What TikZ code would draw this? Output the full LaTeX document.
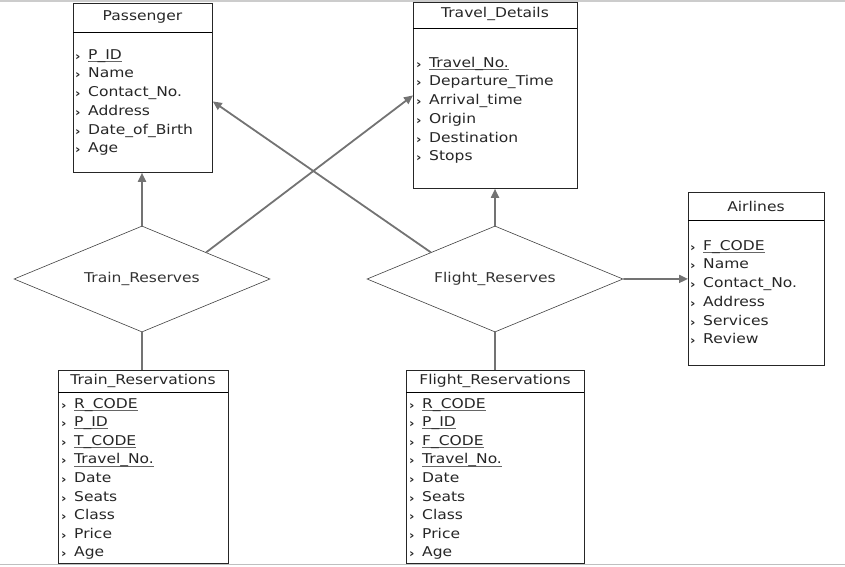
\documentclass[tikz,border=0pt]{standalone}
\usepackage{fontspec}
\usepackage{tikz}
\usetikzlibrary{shapes.geometric,arrows.meta}

\newfontfamily\erfont[FakeStretch=1.15]{DejaVu Sans}
\newcommand{\pk}[1]{\setbox0\hbox{#1}\rlap{\color{black!60}\rule[-2.4pt]{\wd0}{0.7pt}}\box0}
\newcommand{\chev}{\makebox[13pt][l]{\raisebox{-1pt}{\bfseries\fontsize{11.5}{11.5}\selectfont ›}}}

\begin{document}
\begin{tikzpicture}[
				x=1pt, y=-1pt,
				entity/.style={
					rectangle,
					draw=black!85,
					line width=0.8pt,
					anchor=north west,
					inner sep=0pt
				},
				title/.style={
					font=\erfont\fontsize{13.5}{15}\selectfont,
					text=black!85,
					inner sep=0pt
				},
				attr/.style={
					font=\erfont\fontsize{13.5}{15}\selectfont,
					text=black!85,
					anchor=base west,
					inner sep=0pt
				},
				relation/.style={
					diamond,
					aspect=2.4,
					draw=black!75,
					line width=0.6pt,
					minimum width=256pt,
					minimum height=106pt,
					inner sep=0pt,
					font=\erfont\fontsize{13.5}{15}\selectfont,
					text=black!80
				},
				link/.style={
					draw=black!55,
					line width=1.8pt
				},
				arrow/.style={
					link,
					-{Triangle[length=9pt,width=8pt]}
				}
			]

				\useasboundingbox (0,0) rectangle (845,566);
				\draw[black!20, line width=1.2pt] (0,1) -- (845,1);
				\draw[black!25, line width=1.2pt] (0,564.5) -- (845,564.5);

				% entities
				\node[entity, minimum width=139pt, minimum height=169pt] (passenger) at (73,3) {};
				\draw[line width=0.8pt] (passenger.north west) ++(0,29) -- ++(139,0);
				\node[title] (passengerT) at (142.5,17) {Passenger};
				\foreach \a [count=\i] in {\pk{P\_ID}, Name, Contact\_No., Address, Date\_of\_Birth, Age}
					\node[attr] (pa\i) at (75, 40.5+\i*18.7) {\chev\a};

				\node[entity, minimum width=164pt, minimum height=186pt] (travel) at (413,2) {};
				\draw[line width=0.8pt] (travel.north west) ++(0,26) -- ++(164,0);
				\node[title] (travelT) at (495,14) {Travel\_Details};
				\foreach \a [count=\i] in {\pk{Travel\_No.}, Departure\_Time, Arrival\_time, Origin, Destination, Stops}
					\node[attr] (ta\i) at (416, 48.5+\i*18.7) {\chev\a};

				\node[entity, minimum width=136pt, minimum height=173pt] (airlines) at (688,192) {};
				\draw[line width=0.8pt] (airlines.north west) ++(0,28) -- ++(136,0);
				\node[title] (airlinesT) at (756,206) {Airlines};
				\foreach \a [count=\i] in {\pk{F\_CODE}, Name, Contact\_No., Address, Services, Review}
					\node[attr] (aa\i) at (690, 231.5+\i*18.7) {\chev\a};

				\node[entity, minimum width=170pt, minimum height=193pt] (trainres) at (58,370) {};
				\draw[line width=0.8pt] (trainres.north west) ++(0,22) -- ++(170,0);
				\node[title] (trainresT) at (143,381) {Train\_Reservations};
				\foreach \a [count=\i] in {\pk{R\_CODE}, \pk{P\_ID}, \pk{T\_CODE}, \pk{Travel\_No.}, Date, Seats, Class, Price, Age}
					\node[attr] (ra\i) at (61, 389.5+\i*18.6) {\chev\a};

				\node[entity, minimum width=178pt, minimum height=193pt] (flightres) at (406,370) {};
				\draw[line width=0.8pt] (flightres.north west) ++(0,22) -- ++(178,0);
				\node[title] (flightresT) at (495,381) {Flight\_Reservations};
				\foreach \a [count=\i] in {\pk{R\_CODE}, \pk{P\_ID}, \pk{F\_CODE}, \pk{Travel\_No.}, Date, Seats, Class, Price, Age}
					\node[attr] (fa\i) at (409, 389.5+\i*18.6) {\chev\a};

				% relationships
				\node[relation] (trainrel) at (142,279) {Train\_Reserves};
				\node[relation] (flightrel) at (495,279) {Flight\_Reserves};

				\draw[arrow]
					(trainrel.north) -- (trainrel.north |- passenger.south);

				\draw[arrow]
					(trainrel.north east) -- (travel.west);

				\draw[arrow]
					(flightrel.north west) -- ([yshift=-13.5pt]passenger.east);

				\draw[arrow]
					(flightrel.north) -- (flightrel.north |- travel.south);

				\draw[arrow]
					(flightrel.east) -- (airlines.west);

				\draw[link]
					(trainrel.south) -- (trainrel.south |- trainres.north);

				\draw[link]
					(flightrel.south) -- (flightrel.south |- flightres.north);

			\end{tikzpicture}
\end{document}
